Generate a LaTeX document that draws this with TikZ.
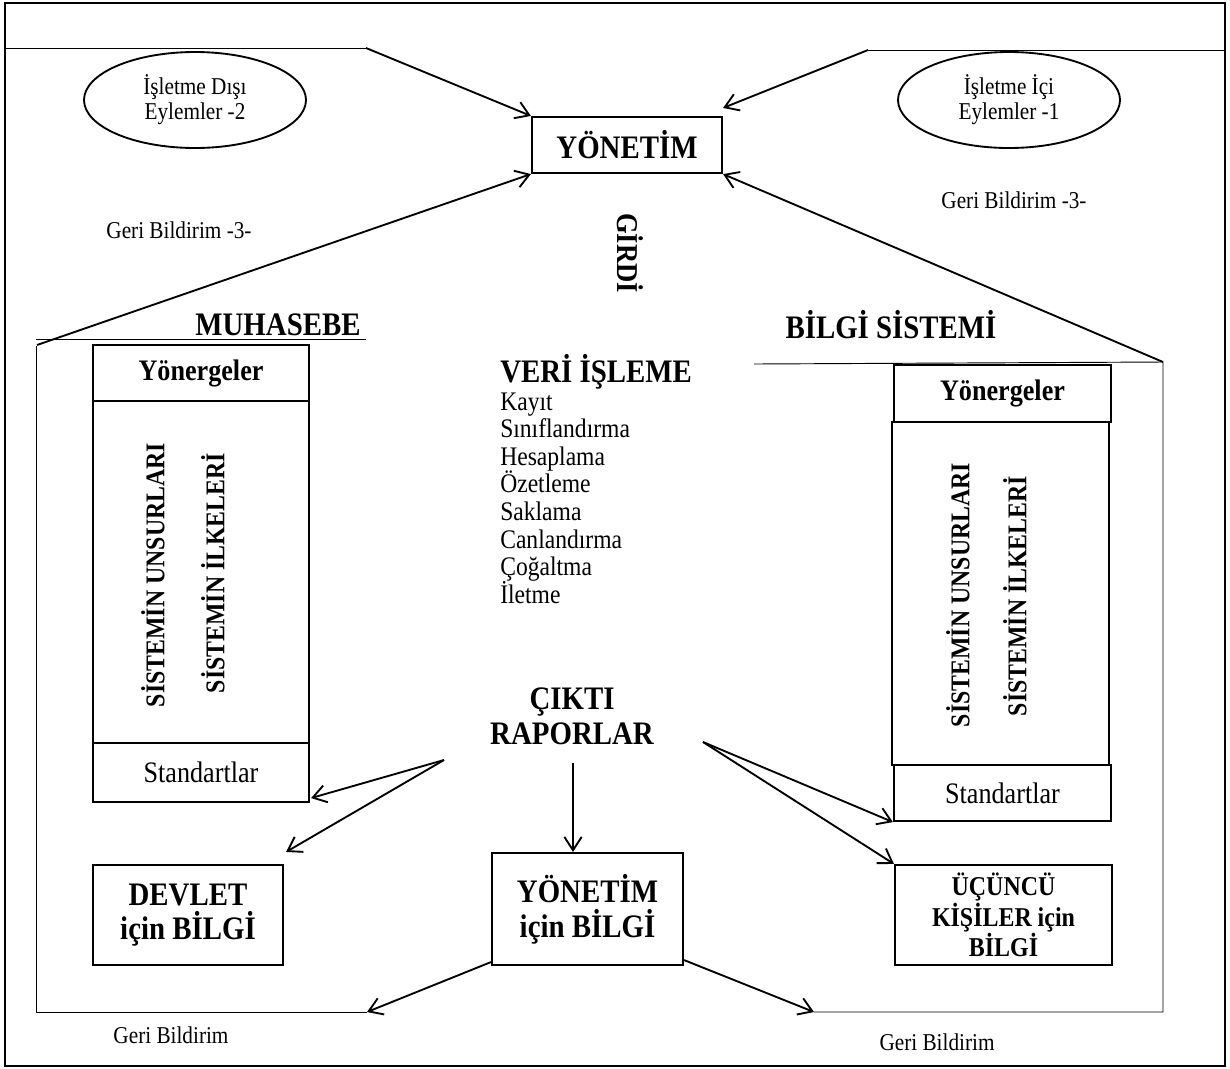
\documentclass[tikz,border=0pt]{standalone}
\usepackage{fontspec}
\setmainfont{Liberation Serif}[FakeStretch=0.88]
\usetikzlibrary{shapes.geometric,arrows.meta,calc}
\newcommand\fHead{\fontsize{24.6}{26}\selectfont\bfseries}
\newcommand\fItem{\fontsize{20.1}{20.8}\selectfont}
\newcommand\fSmall{\fontsize{18.1}{18.75}\selectfont}
\newcommand\fMid{\fontsize{22.3}{23}\selectfont}
\newcommand\fVert{\fontsize{20.3}{21}\selectfont\bfseries}
\newcommand\fThird{\fontsize{20.4}{20}\selectfont\bfseries}
\begin{document}
\begin{tikzpicture}[x=0.75pt,y=-0.75pt,
  bw/.style={minimum width=#1*0.75pt},
  bh/.style={minimum height=#1*0.75pt},
  boxa/.style={draw,line width=1.6pt,inner sep=0pt,align=center},
  arr/.style={line width=1.4pt,-{Straight Barb[length=10pt,width=13pt]}},
  thinl/.style={line width=0.7pt},
  lbl/.style={inner sep=0pt,align=center}]
\useasboundingbox (0,0) rectangle (1230,1068);
\draw[line width=1.3pt] (5,3) rectangle (1225,1066);

% top box
\node[boxa,bw=190,bh=56,font=\fHead] (yon) at (627,145) {YÖNETİM};

% ellipses
\node[draw,ellipse,line width=1.4pt,bw=222,bh=96,align=center,font=\fSmall] (dis) at (195,100) {İşletme Dışı\\Eylemler -2};
\node[draw,ellipse,line width=1.4pt,bw=222,bh=96,align=center,font=\fSmall] (ici) at (1009,100) {İşletme İçi\\Eylemler -1};

\node[lbl,font=\fSmall] (gb1) at (179,230) {Geri Bildirim -3-};
\node[lbl,font=\fSmall] (gb2) at (1014,200) {Geri Bildirim -3-};
\node[lbl,font=\fSmall] (gb3) at (171,1035) {Geri Bildirim};
\node[lbl,font=\fSmall] (gb4) at (937,1042) {Geri Bildirim};

\node[lbl,font=\fontsize{22.7}{24}\selectfont\bfseries,rotate=-90] (girdi) at (630,253) {GİRDİ};
\node[lbl,font=\fHead] (muh) at (278,325) {MUHASEBE};
\node[lbl,font=\fHead] (bilgi) at (891,325) {BİLGİ SİSTEMİ};

% frame coordinates
\coordinate (tlA) at (366,48);
\coordinate (trA) at (868,50);
\coordinate (lfTop) at (37,345);
\coordinate (rfTop) at (1163,362);
\coordinate (lfBot) at (367,1012);
\coordinate (rfBot) at (814,1012);

\draw[thinl] (5,48) -- (tlA);
\draw[arr] (tlA) -- (yon.north west);
\draw[thinl] (1225,50) -- (trA);
\draw[arr] (trA) -- ([yshift=6pt]yon.north east);
\draw[arr] (lfTop) -- (yon.south west);
\draw[arr] (rfTop) -- (yon.south east);
\draw[thinl] (36,339) -- (366,339);
\draw[thinl] (36,346) -- (36,1012) -- (lfBot);
\draw[thinl] (754,364) -- (rfTop) -- (1163,1012) -- (rfBot);

% left stack
\node[boxa,bw=216,bh=56,font=\fMid\bfseries] (lyon) at (201,373) {Yönergeler};
\node[boxa,bw=216,bh=342] (lbig) at (201,572) {};
\node[boxa,bw=216,bh=59,font=\fMid] (lstd) at (201,772.5) {Standartlar};
\node[lbl,font=\fVert,rotate=90] (lun) at (153,575) {SİSTEMİN UNSURLARI};
\node[lbl,font=\fVert,rotate=90] (lil) at (213,573) {SİSTEMİN İLKELERİ};

% right stack
\node[boxa,bw=217,bh=57,font=\fMid\bfseries] (ryon) at (1002.5,393.5) {Yönergeler};
\node[boxa,bw=217,bh=343] (rbig) at (1000.5,593.5) {};
\node[boxa,bw=217,bh=56,font=\fMid] (rstd) at (1002.5,793) {Standartlar};
\node[lbl,font=\fVert,rotate=90] (run) at (958,595) {SİSTEMİN UNSURLARI};
\node[lbl,font=\fVert,rotate=90] (ril) at (1015,596) {SİSTEMİN İLKELERİ};

% data processing
\node[anchor=base west,inner sep=0pt,font=\fHead] (veri) at (500,382) {VERİ İŞLEME};
\foreach \t [count=\i from 0] in {Kayıt,Sınıflandırma,Hesaplama,Özetleme,Saklama,Canlandırma,Çoğaltma,İletme}
  \node[anchor=base west,inner sep=0pt,font=\fItem] (vi\i) at (500,{410+27.6*\i}) {\t};

% output
\node[lbl,font=\fontsize{24.6}{26.2}\selectfont\bfseries] (cikti) at (572,716) {ÇIKTI\\RAPORLAR};

% bottom boxes
\node[boxa,bw=190,bh=100,font=\fontsize{24.6}{25}\selectfont\bfseries] (dev) at (188,915) {DEVLET\\için BİLGİ};
\node[boxa,bw=191,bh=112,font=\fontsize{24.6}{26}\selectfont\bfseries] (ybil) at (587.5,909) {YÖNETİM\\için BİLGİ};
\node[boxa,bw=217,bh=100,font=\fThird] (ucu) at (1003.5,915) {ÜÇÜNCÜ\\KİŞİLER için\\BİLGİ};

\coordinate (outL) at (444,760);
\coordinate (outM) at (573,763);
\coordinate (outR) at (703,742);
\draw[arr] (outL) -- ($(lstd.south east)+(1,-5)$);
\draw[arr] (outL) -- ($(dev.north east)+(2,-12)$);
\draw[arr] (outM) -- ($(ybil.north)+(-14.5,0)$);
\draw[arr] (outR) -- (rstd.south west);
\draw[arr] (outR) -- (ucu.north west);
\draw[arr] ($(ybil.south west)+(0,-4)$) -- (lfBot);
\draw[arr] ($(ybil.south east)+(0,-6)$) -- (rfBot);
\end{tikzpicture}
\end{document}
